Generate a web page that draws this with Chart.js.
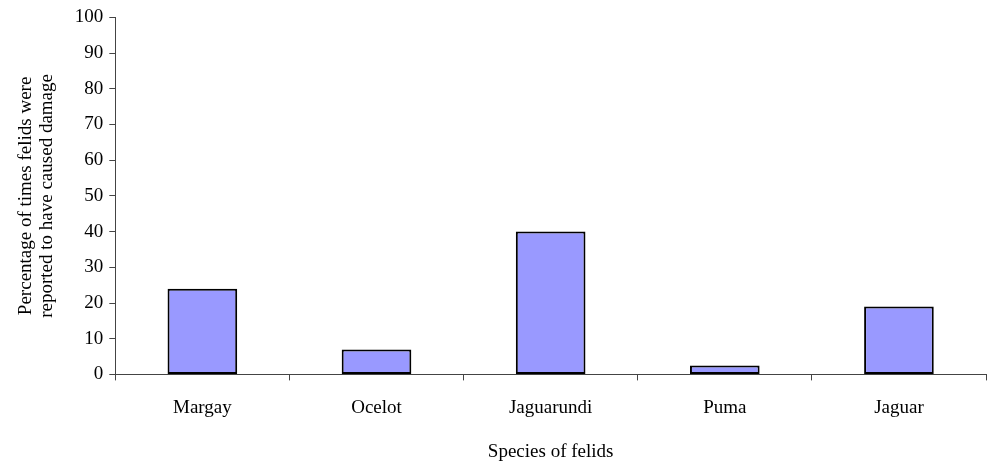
<!DOCTYPE html>
<html>
<head>
<meta charset="utf-8">
<script src="https://cdn.jsdelivr.net/npm/chart.js@4"></script>
<style>
  html, body { margin: 0; padding: 0; background: #fff; }
  #wrap { width: 988px; height: 463px; }
</style>
</head>
<body>
<div id="wrap"><canvas id="myChart" width="988" height="463"></canvas></div>
<script>
// ===== data =====
const species = ['Margay', 'Ocelot', 'Jaguarundi', 'Puma', 'Jaguar'];
const damagePct = [24, 7, 40, 2.5, 19];
const yTicks = [0, 10, 20, 30, 40, 50, 60, 70, 80, 90, 100];

const serif = 'Liberation Serif';

// ===== chart =====
const ctx = document.getElementById('myChart');

let barChart = new Chart(ctx, {
  type: 'bar',
  data: {
    labels: species,
    datasets: [{
      data: damagePct,
      backgroundColor: '#9999ff',
      borderColor: '#000',
      borderWidth: 2,
      borderSkipped: false,
      categoryPercentage: 1,
      barPercentage: 0.4
    }]
  },
  options: {
    responsive: false,
    animation: false,
    layout: { padding: { top: 8, right: 2, left: 16, bottom: 0 } },
    plugins: {
      legend: { display: false },
      tooltip: { enabled: false }
    },
    scales: {
      x: {
        grid: { offset: true, drawOnChartArea: false, tickLength: 6, color: '#444' },
        border: { color: '#444', width: 1 },
        ticks: { color: '#000', font: { family: serif, size: 19 }, padding: 16 },
        title: {
          display: true, text: 'Species of felids', color: '#000',
          font: { family: serif, size: 19 }, padding: { top: 5, bottom: 0 }
        }
      },
      y: {
        min: 0, max: 100,
        afterBuildTicks: axis => { axis.ticks = yTicks.map(v => ({ value: v })); },
        grid: { drawOnChartArea: false, tickLength: 6, color: '#444' },
        border: { color: '#444', width: 1 },
        ticks: { color: '#000', font: { family: serif, size: 19 }, padding: 6 },
        title: {
          display: true,
          text: ['Percentage of times felids were', 'reported to have caused damage'],
          color: '#000', font: { family: serif, size: 19, lineHeight: 1.1 },
          padding: { top: 0, bottom: 11 }
        }
      }
    }
  }
});
</script>
</body>
</html>
